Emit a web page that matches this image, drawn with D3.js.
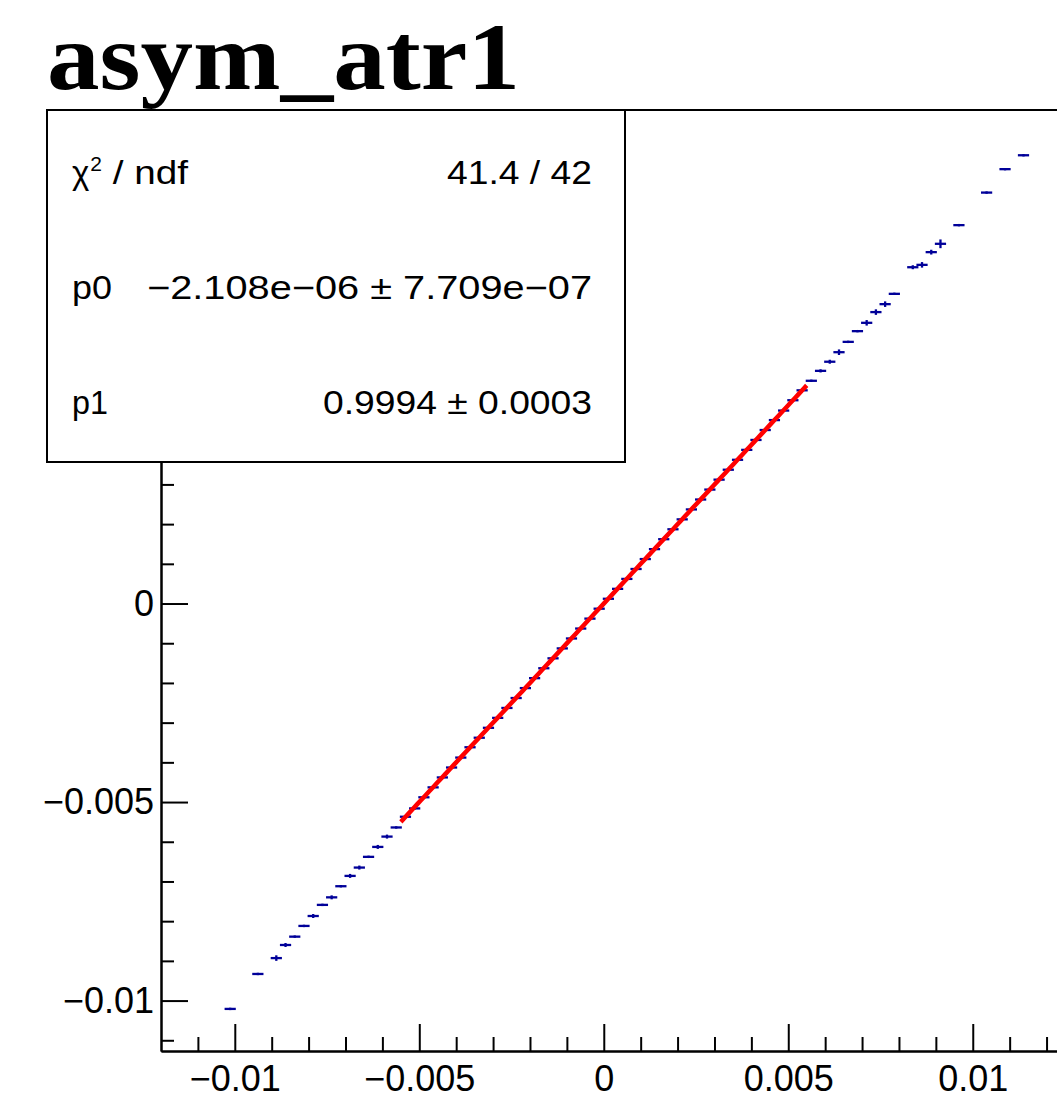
<!DOCTYPE html>
<html><head><meta charset="utf-8">
<script src="https://cdn.jsdelivr.net/npm/d3@7"></script>
<style>body{margin:0;background:#fff;overflow:hidden} svg{display:block}</style>
</head><body>
<svg id="c" width="1057" height="1119"></svg>
<script>
const title = "asym_atr1";
// profile bins (bin centres), mean values and errors
const binCenters = [
 -0.010125,-0.009375,-0.008875,-0.008625,-0.008375,-0.008125,-0.007875,-0.007625,-0.007375,-0.007125,
 -0.006875,-0.006625,-0.006375,-0.006125,-0.005875,-0.005625,-0.005375,-0.005125,-0.004875,-0.004625,
 -0.004375,-0.004125,-0.003875,-0.003625,-0.003375,-0.003125,-0.002875,-0.002625,-0.002375,-0.002125,
 -0.001875,-0.001625,-0.001375,-0.001125,-0.000875,-0.000625,-0.000375,-0.000125,0.000125,0.000375,
 0.000625,0.000875,0.001125,0.001375,0.001625,0.001875,0.002125,0.002375,0.002625,0.002875,
 0.003125,0.003375,0.003625,0.003875,0.004125,0.004375,0.004625,0.004875,0.005125,0.005375,
 0.005625,0.005875,0.006125,0.006375,0.006625,0.006875,0.007125,0.007375,0.007625,0.007875,
 0.008375,0.008625,0.008875,0.009125,0.009625,0.010375,0.010875,0.011375
];
const binMeans = [
 -0.01021,-0.00933,-0.00893,-0.00860,-0.00839,-0.00812,-0.00787,-0.00759,-0.00740,-0.00712,
 -0.00686,-0.00665,-0.00638,-0.00613,-0.00587,-0.00564,-0.00537,-0.00516,-0.00488,-0.00463,
 -0.00438,-0.00413,-0.00388,-0.00362,-0.00338,-0.00313,-0.00288,-0.00263,-0.00238,-0.00213,
 -0.00188,-0.00163,-0.00138,-0.00113,-0.00088,-0.00063,-0.00038,-0.00013,0.00012,0.00037,
 0.00062,0.00087,0.00112,0.00137,0.00162,0.00187,0.00212,0.00237,0.00262,0.00287,
 0.00312,0.00337,0.00362,0.00387,0.00412,0.00437,0.00462,0.00486,0.00512,0.00537,
 0.00561,0.00586,0.00609,0.00633,0.00659,0.00686,0.00707,0.00734,0.00754,0.00780,
 0.00847,0.00853,0.00885,0.00906,0.00953,0.01035,0.01094,0.01129
];
const binErrors = [
 0.00003,0.00003,0.00007,0.00005,0.00003,0.00003,0.00005,0.00003,0.00005,0.00003,
 0.00005,0.00005,0.00003,0.00005,0.00005,0.00003,0.00003,0.00003,0.00002,0.00002,
 0.00002,0.00002,0.00002,0.00002,0.00002,0.00002,0.00002,0.00002,0.00002,0.00002,
 0.00002,0.00002,0.00002,0.00002,0.00002,0.00002,0.00002,0.00002,0.00002,0.00002,
 0.00002,0.00002,0.00002,0.00002,0.00002,0.00002,0.00002,0.00002,0.00002,0.00002,
 0.00002,0.00002,0.00002,0.00002,0.00002,0.00002,0.00002,0.00002,0.00002,0.00002,
 0.00003,0.00004,0.00005,0.00007,0.00003,0.00003,0.00007,0.00007,0.00007,0.00003,
 0.00005,0.00007,0.00006,0.00011,0.00003,0.00003,0.00003,0.00003
];
const binWidth = 0.00025;
const fitP0 = -2.108e-6;
const fitP1 = 0.9994;
const fitRange = [-0.0055, 0.0055];
const statNames = ["χ", "p0", "p1"];
const statValues = ["41.4 / 42", "\u22122.108e\u221206 \u00b1 7.709e\u221207", "0.9994 \u00b1 0.0003"];
const xMajorTicks = [-0.01, -0.005, 0, 0.005, 0.01];
const xTickLabels = ["\u22120.01", "\u22120.005", "0", "0.005", "0.01"];
const yMajorTicks = [-0.01, -0.005, 0, 0.005, 0.01];
// the labels of 0.005 and 0.01 are hidden behind the statistics box
const yTickLabels = ["\u22120.01", "\u22120.005", "0", "", ""];

const svg = d3.select("#c");
const font = "'Liberation Sans', Arial, Helvetica, sans-serif";
const frame = {left: 161, top: 110, bottom: 1051, right: 1065};
const x = d3.scaleLinear().domain([-0.012, 0.0125]).range([frame.left, frame.right]);
const y = d3.scaleLinear().domain([-0.01127, 0.01243]).range([frame.bottom, frame.top]);

// title
svg.append("text").attr("x", 47).attr("y", 89)
  .attr("font-family", "'Liberation Serif', 'Times New Roman', serif")
  .attr("font-weight", "bold").attr("font-size", 96)
  .attr("textLength", 473).attr("lengthAdjust", "spacingAndGlyphs")
  .text(title);

// frame top line
svg.append("line").attr("x1", frame.left).attr("x2", 1057).attr("y1", frame.top).attr("y2", frame.top)
  .attr("stroke", "#000").attr("stroke-width", 2);

// X axis
const xMinor = d3.range(-0.011, 0.0125, 0.001).filter(v => !xMajorTicks.some(m => Math.abs(m - v) < 1e-9));
const gx = svg.append("g").attr("transform", `translate(0,${frame.bottom})`);
gx.call(d3.axisBottom(x).tickValues(xMinor).tickSize(-14).tickSizeOuter(0).tickFormat(""));
const gx2 = svg.append("g").attr("transform", `translate(0,${frame.bottom})`);
gx2.call(d3.axisBottom(x).tickValues(xMajorTicks).tickSize(-27).tickSizeOuter(0)
  .tickFormat((d, i) => xTickLabels[i]).tickPadding(14));
[gx, gx2].forEach(g => {
  g.selectAll("line").attr("stroke", "#000").attr("stroke-width", 2);
  g.select(".domain").attr("stroke", "#000").attr("stroke-width", 2);
});
gx2.selectAll("text").attr("font-family", font).attr("font-size", 36).attr("fill", "#000");

// Y axis
const yMinor = d3.range(-0.011, 0.0124, 0.001).filter(v => !yMajorTicks.some(m => Math.abs(m - v) < 1e-9));
const gy = svg.append("g").attr("transform", `translate(${frame.left},0)`);
gy.call(d3.axisLeft(y).tickValues(yMinor).tickSize(-13).tickSizeOuter(0).tickFormat(""));
const gy2 = svg.append("g").attr("transform", `translate(${frame.left},0)`);
gy2.call(d3.axisLeft(y).tickValues(yMajorTicks).tickSize(-27).tickSizeOuter(0)
  .tickFormat((d, i) => yTickLabels[i]).tickPadding(7));
[gy, gy2].forEach(g => {
  g.selectAll("line").attr("stroke", "#000").attr("stroke-width", 2);
  g.select(".domain").attr("stroke", "#000").attr("stroke-width", 2);
});
gy2.selectAll("text").attr("font-family", font).attr("font-size", 36).attr("fill", "#000");
gy2.selectAll("text").filter(function () { return this.textContent === ""; }).remove();

// data points: horizontal bin-width bars + vertical error bars
const pts = svg.append("g").attr("stroke", "#000099").attr("stroke-width", 2.3).attr("fill", "none");
binCenters.forEach((c, i) => {
  pts.append("line").attr("x1", x(c - binWidth / 2) - 1).attr("x2", x(c + binWidth / 2) + 1)
    .attr("y1", y(binMeans[i])).attr("y2", y(binMeans[i]));
  pts.append("line").attr("x1", x(c)).attr("x2", x(c))
    .attr("y1", y(binMeans[i] - binErrors[i])).attr("y2", y(binMeans[i] + binErrors[i]));
});

// fit line
const fitXs = d3.range(fitRange[0], fitRange[1] + 1e-12, (fitRange[1] - fitRange[0]) / 100);
svg.append("path").datum(fitXs)
  .attr("d", d3.line().x(v => x(v)).y(v => y(fitP0 + fitP1 * v)))
  .attr("fill", "none").attr("stroke", "#ff0000").attr("stroke-width", 4.5);

// stats box
const box = {x: 47, y: 110, w: 578, h: 352};
svg.append("rect").attr("x", box.x).attr("y", box.y).attr("width", box.w).attr("height", box.h)
  .attr("fill", "#fff").attr("stroke", "#000").attr("stroke-width", 2);
const rowsY = [184, 299, 414];
const valueWidths = [145, 445, 269];
const fs = 33;
const t0 = svg.append("text").attr("x", 72).attr("y", rowsY[0]).attr("font-family", font).attr("font-size", fs);
t0.append("tspan").text(statNames[0]);
t0.append("tspan").attr("font-size", 21).attr("dy", -13).attr("dx", 1).text("2");
t0.append("tspan").attr("dy", 13).text(" / ndf").attr("textLength", 86).attr("lengthAdjust", "spacingAndGlyphs");
for (let i = 1; i < 3; i++) {
  svg.append("text").attr("x", 72).attr("y", rowsY[i]).attr("font-family", font).attr("font-size", fs)
    .attr("textLength", i === 1 ? 40 : 36).attr("lengthAdjust", "spacingAndGlyphs").text(statNames[i]);
}
statValues.forEach((s, i) => {
  svg.append("text").attr("x", 592).attr("y", rowsY[i]).attr("text-anchor", "end")
    .attr("font-family", font).attr("font-size", fs)
    .attr("textLength", valueWidths[i]).attr("lengthAdjust", "spacingAndGlyphs").text(s);
});
</script>
</body></html>
